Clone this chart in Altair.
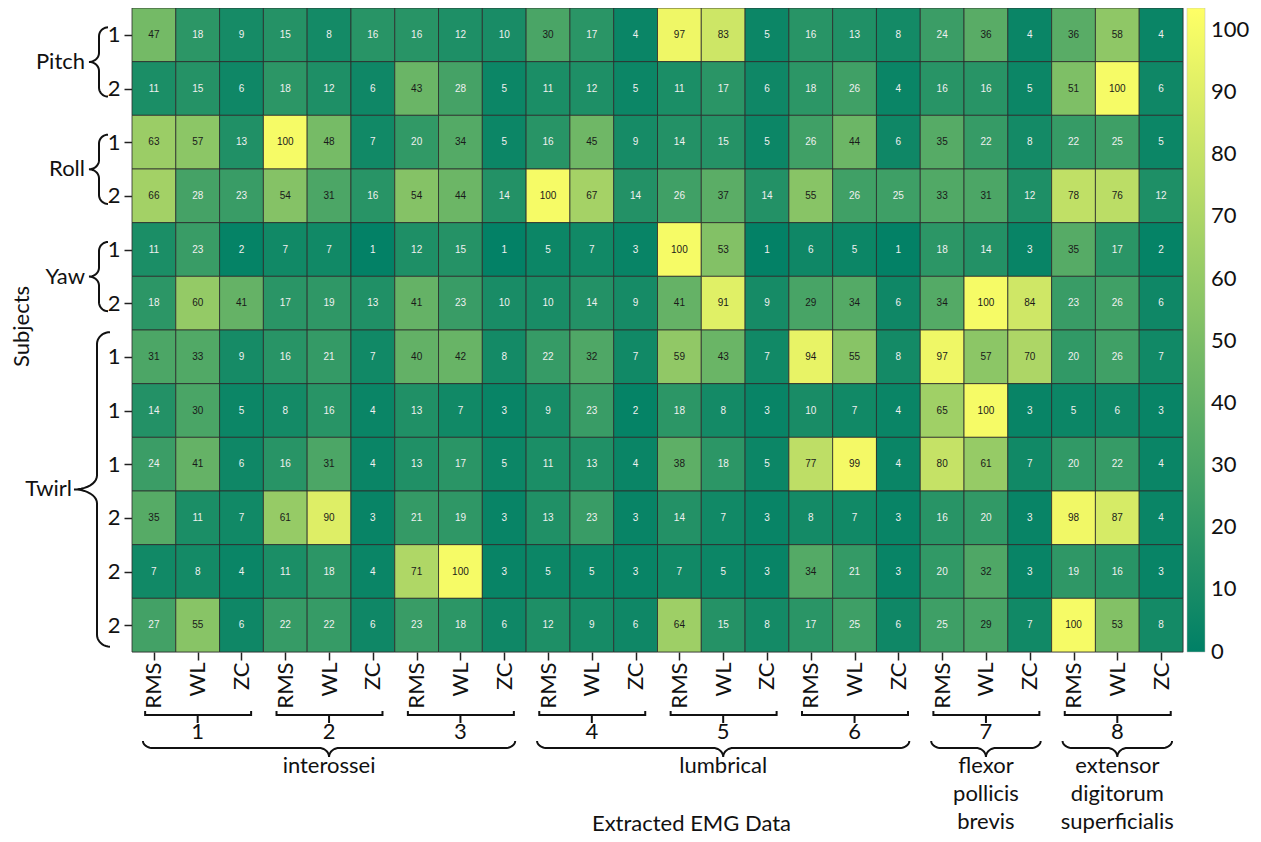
import math
import altair as alt
import pandas as pd

# ---------------- data ----------------
features = ["RMS", "WL", "ZC"]
channels = ["1", "2", "3", "4", "5", "6", "7", "8"]
muscles = ["interossei", "lumbrical", "flexor pollicis brevis", "extensor digitorum superficialis"]
muscle_channels = [[0, 1, 2], [3, 4, 5], [6], [7]]
motions = ["Pitch", "Roll", "Yaw", "Twirl"]
motion_rows = [[0, 1], [2, 3], [4, 5], [6, 7, 8, 9, 10, 11]]
row_labels = ["1", "2", "1", "2", "1", "2", "1", "1", "1", "2", "2", "2"]

pitch_1 = [47, 18, 9, 15, 8, 16, 16, 12, 10, 30, 17, 4, 97, 83, 5, 16, 13, 8, 24, 36, 4, 36, 58, 4]
pitch_2 = [11, 15, 6, 18, 12, 6, 43, 28, 5, 11, 12, 5, 11, 17, 6, 18, 26, 4, 16, 16, 5, 51, 100, 6]
roll_1 = [63, 57, 13, 100, 48, 7, 20, 34, 5, 16, 45, 9, 14, 15, 5, 26, 44, 6, 35, 22, 8, 22, 25, 5]
roll_2 = [66, 28, 23, 54, 31, 16, 54, 44, 14, 100, 67, 14, 26, 37, 14, 55, 26, 25, 33, 31, 12, 78, 76, 12]
yaw_1 = [11, 23, 2, 7, 7, 1, 12, 15, 1, 5, 7, 3, 100, 53, 1, 6, 5, 1, 18, 14, 3, 35, 17, 2]
yaw_2 = [18, 60, 41, 17, 19, 13, 41, 23, 10, 10, 14, 9, 41, 91, 9, 29, 34, 6, 34, 100, 84, 23, 26, 6]
twirl_1a = [31, 33, 9, 16, 21, 7, 40, 42, 8, 22, 32, 7, 59, 43, 7, 94, 55, 8, 97, 57, 70, 20, 26, 7]
twirl_1b = [14, 30, 5, 8, 16, 4, 13, 7, 3, 9, 23, 2, 18, 8, 3, 10, 7, 4, 65, 100, 3, 5, 6, 3]
twirl_1c = [24, 41, 6, 16, 31, 4, 13, 17, 5, 11, 13, 4, 38, 18, 5, 77, 99, 4, 80, 61, 7, 20, 22, 4]
twirl_2a = [35, 11, 7, 61, 90, 3, 21, 19, 3, 13, 23, 3, 14, 7, 3, 8, 7, 3, 16, 20, 3, 98, 87, 4]
twirl_2b = [7, 8, 4, 11, 18, 4, 71, 100, 3, 5, 5, 3, 7, 5, 3, 34, 21, 3, 20, 32, 3, 19, 16, 3]
twirl_2c = [27, 55, 6, 22, 22, 6, 23, 18, 6, 12, 9, 6, 64, 15, 8, 17, 25, 6, 25, 29, 7, 100, 53, 8]

rows = [pitch_1, pitch_2, roll_1, roll_2, yaw_1, yaw_2,
        twirl_1a, twirl_1b, twirl_1c, twirl_2a, twirl_2b, twirl_2c]
color_ticks = [0, 10, 20, 30, 40, 50, 60, 70, 80, 90, 100]

# ---------------- layout ----------------
W, H = 1051, 644
PAD = {"left": 124, "top": 0, "right": 70, "bottom": 182}
LEFT, TOP = 8 + PAD["left"], 8 + PAD["top"]
NC, NR = len(rows[0]), len(rows)
CW, RH = W / NC, H / NR
FONT = "Lato"
INK = "#111111"


def dx(px):
    return (px - LEFT) / CW


def dy(py):
    return (py - TOP) / RH


def arc(cx, cy, rx, ry, t0, t1, n=10):
    pts = []
    for i in range(n + 1):
        t = math.radians(t0 + (t1 - t0) * i / n)
        pts.append((cx + rx * math.cos(t), cy + ry * math.sin(t)))
    return pts


def vbrace(y0, y1, xv, xe, xt, rye, ryt):
    ym = (y0 + y1) / 2
    p = []
    p += arc(xe, y0 + rye, xe - xv, rye, -90, -180)
    p += arc(xt, ym - ryt, xv - xt, ryt, 0, 90)
    p += arc(xt, ym + ryt, xv - xt, ryt, -90, 0)
    p += arc(xe, y1 - rye, xe - xv, rye, 180, 90)
    return p


def hbrace(x0, x1, yl, ye, yt, rxe, rxt):
    xm = (x0 + x1) / 2
    p = []
    p += arc(x0 + rxe, ye, rxe, yl - ye, 180, 90)
    p += arc(xm - rxt, yt, rxt, yt - yl, -90, 0)
    p += arc(xm + rxt, yt, rxt, yt - yl, 180, 270)
    p += arc(x1 - rxe, ye, rxe, yl - ye, 90, 0)
    return p


# ---------------- cells ----------------
cells = []
for r, row in enumerate(rows):
    for c, v in enumerate(row):
        cells.append({"c0": c, "c1": c + 1, "cm": c + 0.5,
                      "r0": r, "r1": r + 1, "rm": r + 0.5, "value": v})
cells = pd.DataFrame(cells)

# ---------------- annotation geometry ----------------
lines = []
texts_left = []
for g, (name, rr) in enumerate(zip(motions, motion_rows)):
    if len(rr) > 2:
        y0, y1 = TOP + (rr[0] + 0.04) * RH, TOP + (rr[-1] + 0.9) * RH
        pts = vbrace(y0, y1, 97, 110, 74, 12, 14)
        tx = 72
    else:
        y0, y1 = TOP + (rr[0] + 0.36) * RH, TOP + (rr[-1] + 0.65) * RH
        pts = vbrace(y0, y1, 99, 108, 89, 9, 9)
        tx = 85
    for k, (px, py) in enumerate(pts):
        lines.append({"id": f"m{g}", "k": k, "x": dx(px), "y": dy(py)})
    texts_left.append({"x": dx(tx), "y": dy((y0 + y1) / 2), "t": name})

# channel brackets
ticks = []
texts_bottom = []
for i, ch in enumerate(channels):
    xs, xe = 3 * i + 0.3, 3 * i + 2.72
    yl, ytp = dy(715), dy(711)
    for k, (px, py) in enumerate([(xs, ytp), (xs, yl), (xe, yl), (xe, ytp)]):
        lines.append({"id": f"c{i}", "k": k, "x": px, "y": py})
    ticks.append({"x": 3 * i + 1.5, "y": yl, "y2": dy(723)})
    texts_bottom.append({"x": 3 * i + 1.5, "y": dy(732), "t": ch})

# muscle braces
for j, (name, chs) in enumerate(zip(muscles, muscle_channels)):
    x0 = LEFT + (3 * chs[0] + 0.25) * CW
    x1 = LEFT + (3 * (chs[-1] + 1) - 0.25) * CW
    pts = hbrace(x0, x1, 748, 741, 757, 10, 10)
    for k, (px, py) in enumerate(pts):
        lines.append({"id": f"g{j}", "k": k, "x": dx(px), "y": dy(py)})
    for li, word in enumerate(name.split(" ")):
        texts_bottom.append({"x": dx((x0 + x1) / 2), "y": dy(766 + 28 * li), "t": word})

lines = pd.DataFrame(lines)
ticks = pd.DataFrame(ticks)
texts_left = pd.DataFrame(texts_left)
texts_bottom = pd.DataFrame(texts_bottom)

# ---------------- scales / axes ----------------
feat_js = "[" + ",".join(f"'{f}'" for f in features) + "]"
row_js = "[" + ",".join(f"'{l}'" for l in row_labels) + "]"

xscale = alt.Scale(domain=[0, NC], nice=False, zero=False)
yscale = alt.Scale(domain=[0, NR], nice=False, zero=False, reverse=True)

xaxis = alt.Axis(values=[i + 0.5 for i in range(NC)],
                 labelExpr=f"{feat_js}[floor(datum.value) % {len(features)}]",
                 labelAngle=270, labelAlign="right", labelBaseline="middle",
                 labelFont=FONT, labelFontSize=22, labelColor=INK, labelPadding=2,
                 labelOverlap=False, tickSize=8, tickColor="#222", tickWidth=1.5,
                 domain=False, grid=False,
                 title="Extracted EMG Data", titleFont=FONT, titleFontSize=22,
                 titleFontWeight="normal", titleColor=INK, titleX=691 - LEFT,
                 titleY=823 - (TOP + H), titleAlign="center", titleBaseline="middle")
yaxis = alt.Axis(values=[i + 0.5 for i in range(NR)],
                 labelExpr=f"{row_js}[floor(datum.value)]",
                 labelFont=FONT, labelFontSize=22, labelColor=INK, labelPadding=4,
                 labelOverlap=False, tickSize=8, tickColor="#222", tickWidth=1.5,
                 domain=False, grid=False,
                 title="Subjects", titleFont=FONT, titleFontSize=22,
                 titleFontWeight="normal", titleColor=INK, titleAngle=270,
                 titleX=21 - LEFT, titleY=326 - TOP, titleAlign="center",
                 titleBaseline="middle")


def X(field):
    return alt.X(field, scale=xscale, axis=xaxis)


def Y(field):
    return alt.Y(field, scale=yscale, axis=yaxis)


heat = alt.Chart(cells).mark_rect(stroke="#2b2b2b", strokeWidth=0.8).encode(
    x=X("c0:Q"),
    x2="c1:Q",
    y=Y("r0:Q"),
    y2="r1:Q",
    color=alt.Color("value:Q",
                    scale=alt.Scale(domain=[-0.05, 103.5], range=["#008066", "#ffff66"],
                                    interpolate="rgb"),
                    legend=alt.Legend(title=None, orient="right", offset=4,
                                      gradientLength=H, gradientThickness=18,
                                      gradientStrokeColor="#bbbbbb", gradientStrokeWidth=0.5,
                                      labelFont=FONT, labelFontSize=22, labelColor=INK,
                                      labelOffset=6, values=color_ticks)),
)

labels = alt.Chart(cells).mark_text(font="Liberation Sans", fontSize=10).encode(
    x=X("cm:Q"),
    y=Y("rm:Q"),
    text=alt.Text("value:Q"),
    color=alt.condition("datum.value >= 28.5", alt.value("#1a1a1a"), alt.value("#f0f0f0")),
)

brace_lines = alt.Chart(lines).mark_line(color=INK, strokeWidth=2).encode(
    x=X("x:Q"), y=Y("y:Q"), detail="id:N", order="k:Q")

tick_rules = alt.Chart(ticks).mark_rule(color=INK, strokeWidth=2).encode(
    x=X("x:Q"), y=Y("y:Q"), y2="y2:Q")

left_text = alt.Chart(texts_left).mark_text(font=FONT, fontSize=22, color=INK,
                                            align="right", baseline="middle").encode(
    x=X("x:Q"), y=Y("y:Q"), text="t:N")

bottom_text = alt.Chart(texts_bottom).mark_text(font=FONT, fontSize=22, color=INK,
                                                align="center", baseline="middle").encode(
    x=X("x:Q"), y=Y("y:Q"), text="t:N")

chart = alt.layer(heat, labels, brace_lines, tick_rules, left_text, bottom_text).properties(
    width=W, height=H,
    autosize=alt.AutoSizeParams(type="none"),
    padding=PAD,
).configure_view(stroke=None).configure(background="white")

chart.save("out.html", embed_options={"renderer": "svg", "actions": False})
